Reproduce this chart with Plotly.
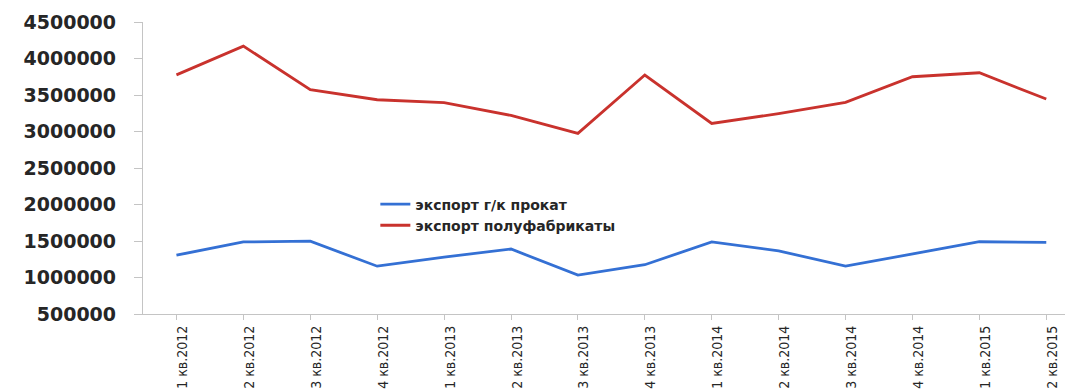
import plotly.graph_objects as go

# Quarterly export volumes
quarters = [
    "1 кв.2012", "2 кв.2012", "3 кв.2012", "4 кв.2012",
    "1 кв.2013", "2 кв.2013", "3 кв.2013", "4 кв.2013",
    "1 кв.2014", "2 кв.2014", "3 кв.2014", "4 кв.2014",
    "1 кв.2015", "2 кв.2015",
]
hot_rolled = [
    1305000, 1487000, 1497000, 1155000,
    1280000, 1390000, 1032000, 1175000,
    1487000, 1365000, 1155000, 1320000,
    1490000, 1480000,
]
semi_finished = [
    3776000, 4170000, 3572000, 3435000,
    3396000, 3220000, 2975000, 3774000,
    3110000, 3245000, 3400000, 3750000,
    3805000, 3445000,
]
y_ticks = [500000, 1000000, 1500000, 2000000, 2500000,
           3000000, 3500000, 4000000, 4500000]

BLUE = "#3470d4"
RED = "#c9322d"
AXIS = "#c4c4c4"
TEXT = "#262626"

fig = go.Figure()
fig.add_trace(go.Scatter(
    x=list(range(len(quarters))), y=hot_rolled, mode="lines",
    name="экспорт г/к прокат",
    line=dict(color=BLUE, width=2.8),
))
fig.add_trace(go.Scatter(
    x=list(range(len(quarters))), y=semi_finished, mode="lines",
    name="экспорт полуфабрикаты",
    line=dict(color=RED, width=2.8),
))

fig.update_layout(
    width=1065, height=390,
    margin=dict(l=143, r=0, t=22, b=76),
    paper_bgcolor="white", plot_bgcolor="white",
    showlegend=True,
    legend=dict(
        x=0.252, y=0.43, xanchor="left", yanchor="top",
        bgcolor="rgba(0,0,0,0)",
        font=dict(family="DejaVu Sans", size=14, color=TEXT, weight="bold"),
        tracegroupgap=0, itemwidth=30,
    ),
    xaxis=dict(
        tickmode="array",
        tickvals=list(range(len(quarters))),
        ticktext=quarters,
        range=[-0.5, 13.28],
        tickson="boundaries",
        ticks="outside", ticklen=5, tickcolor=AXIS,
        showline=True, linecolor=AXIS, linewidth=1.3,
        showgrid=False, zeroline=False,
        tickangle=-90,
        ticklabelshift=6,
        tickfont=dict(family="Liberation Sans Narrow, DejaVu Sans Condensed, Roboto, sans-serif",
                      size=14, color=TEXT),
        automargin=False,
    ),
    yaxis=dict(
        range=[500000, 4500000],
        tickmode="array", tickvals=y_ticks,
        tickformat="d",
        ticks="outside", ticklen=8, tickcolor=AXIS,
        ticklabelstandoff=14,
        showline=True, linecolor=AXIS, linewidth=1.3,
        showgrid=False, zeroline=False,
        tickfont=dict(family="DejaVu Sans", size=19, color=TEXT, weight="bold"),
        automargin=False,
    ),
)

fig.write_html("out.html")
